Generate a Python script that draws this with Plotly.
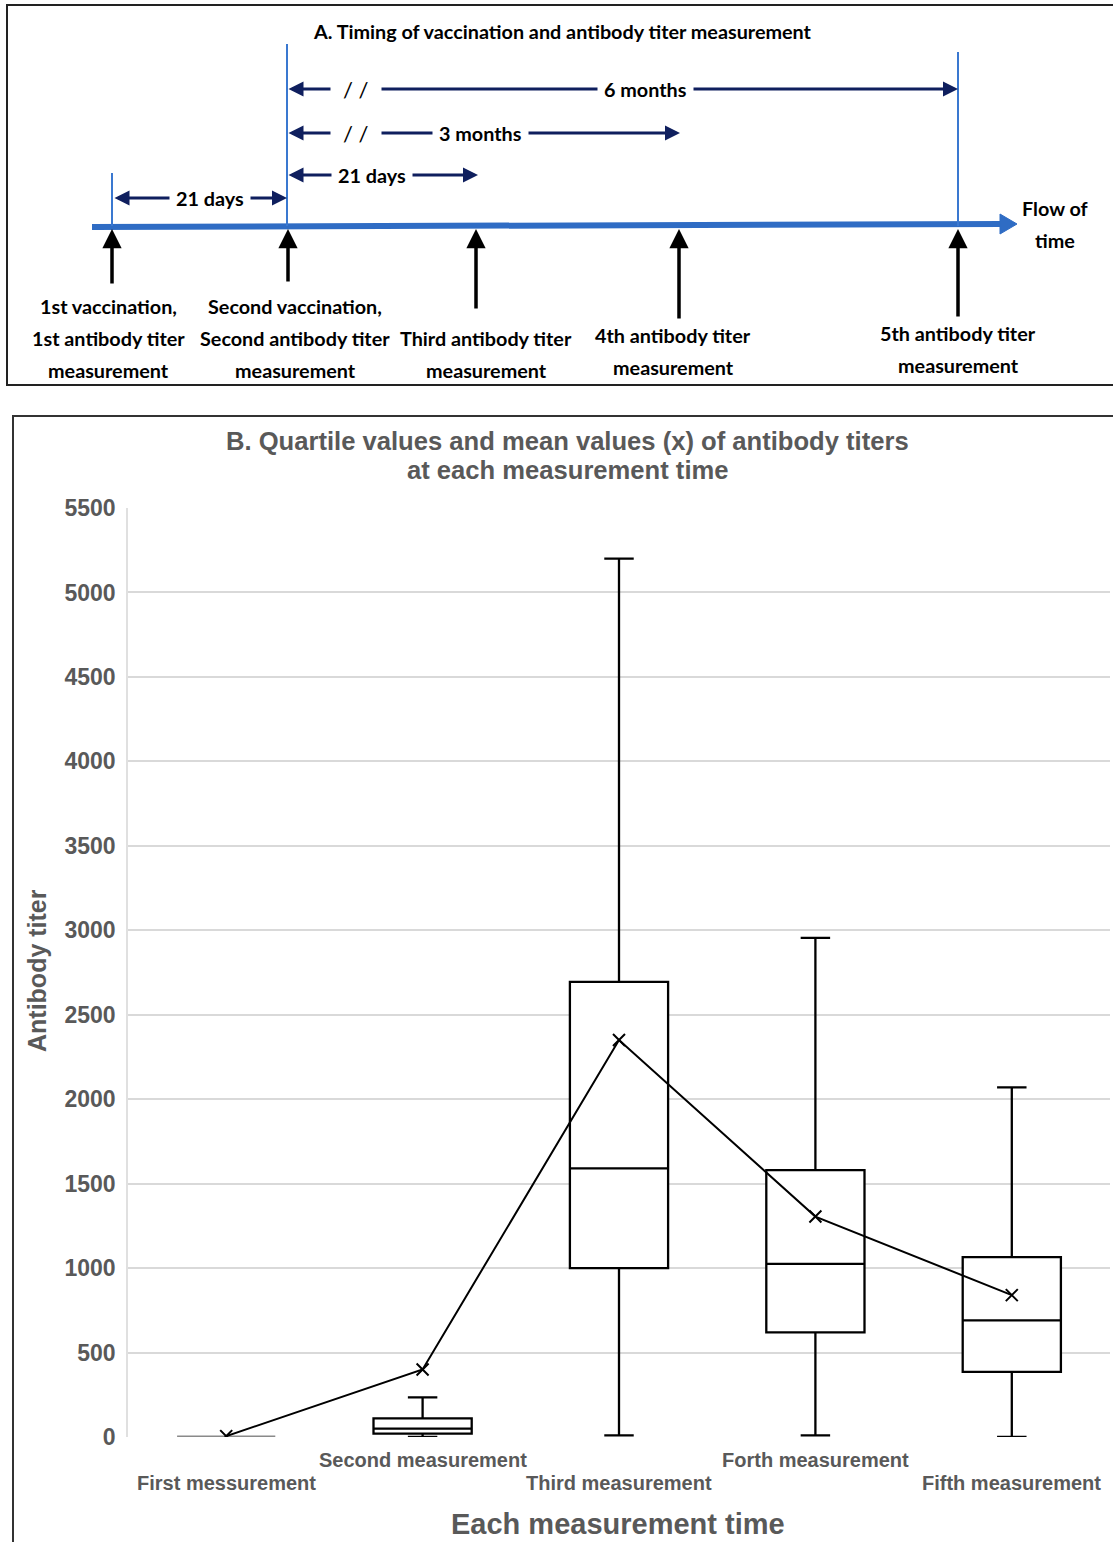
import plotly.graph_objects as go

# ---------------- Panel B data ----------------
categories = ["First messurement", "Second measurement", "Third measurement",
              "Forth measurement", "Fifth measurement"]
q1 = [0, 20, 1000, 620, 385]
median = [0, 50, 1590, 1025, 690]
q3 = [0, 110, 2695, 1580, 1065]
lower_whisker = [0, 0, 10, 10, 0]
upper_whisker = [0, 235, 5200, 2955, 2070]
mean_values = [5, 400, 2350, 1305, 840]
y_ticks = [0, 500, 1000, 1500, 2000, 2500, 3000, 3500, 4000, 4500, 5000, 5500]

# ---------------- Panel A (schematic) data ----------------
event_pos = [112, 288, 476, 679, 958]
event_labels = [["1st vaccination,", "1st antibody titer", "measurement"],
                ["Second vaccination,", "Second antibody titer", "measurement"],
                ["Third antibody titer", "measurement"],
                ["4th antibody titer", "measurement"],
                ["5th antibody titer", "measurement"]]
span_start = [113, 287, 287, 287]
span_end = [287, 478, 680, 958]
span_labels = ["21 days", "21 days", "3 months", "6 months"]
span_label_pos = [210, 372, 480, 645]
span_has_break = [False, False, True, True]

W, H = 1113, 1542
GRAY = "#595959"
NAVY = "#0F1F5E"
BLUE = "#2F6CC4"
NARROW = "Lato, Roboto, sans-serif"
ARIAL = "Liberation Sans, Arial, sans-serif"
FA = 19.8

fig = go.Figure()

# ---- Box plots ----
for i, cat in enumerate(categories):
    col = "#8a8a8a" if i == 0 else "black"
    fig.add_trace(go.Box(
        x=[i], q1=[q1[i]], median=[median[i]], q3=[q3[i]],
        lowerfence=[lower_whisker[i]], upperfence=[upper_whisker[i]],
        boxpoints=False, width=0.5, whiskerwidth=0.3,
        fillcolor="white", line=dict(color=col, width=3 if i == 0 else 2.3),
        showlegend=False, name=cat, xaxis="x", yaxis="y"))

fig.add_trace(go.Scatter(
    x=list(range(len(categories))), y=mean_values, mode="lines+markers",
    line=dict(color="black", width=2),
    marker=dict(symbol="x-thin", size=12, color="black",
                line=dict(color="black", width=2)),
    showlegend=False, xaxis="x", yaxis="y"))

y_dom = [1 - 1437 / H, 1 - 508 / H]
fig.update_layout(
    width=W, height=H, autosize=False,
    margin=dict(l=0, r=0, t=0, b=0, pad=0, autoexpand=False),
    paper_bgcolor="white", plot_bgcolor="white", showlegend=False,
    xaxis=dict(domain=[128 / W, 1110 / W], range=[-0.5, 4.5],
               showgrid=False, zeroline=False, showticklabels=False,
               showline=False, automargin=False),
    yaxis=dict(domain=y_dom, range=[0, 5500], tickvals=y_ticks,
               showgrid=True, gridcolor="#d9d9d9", gridwidth=1.5,
               zeroline=False, showline=True, linecolor="#e0e0e0",
               linewidth=1.5, ticks="", ticklabelstandoff=6, automargin=False,
               tickfont=dict(family=ARIAL, size=23, color=GRAY, weight="bold")),
    xaxis2=dict(domain=[0, 1], range=[0, W], visible=False,
                anchor="y2", automargin=False),
    yaxis2=dict(domain=[1 - 385 / H, 1], range=[385, 0], visible=False,
                anchor="x2", automargin=False),
)

ann = []
shapes = []

# ---- Panel B texts ----
for txt, ypix in [("B. Quartile values and mean values (x) of antibody titers", 441),
                  ("at each measurement time", 470)]:
    ann.append(dict(text="<b>" + txt + "</b>",
                    x=567 / W, y=1 - ypix / H, xref="paper", yref="paper",
                    xanchor="center", yanchor="middle",
                    showarrow=False, font=dict(family=ARIAL, size=25.6, color=GRAY)))
for i, cat in enumerate(categories):
    ypix = 1483 if i % 2 == 0 else 1460
    ann.append(dict(text="<b>" + cat + "</b>", x=i, y=1 - ypix / H,
                    xref="x", yref="paper", showarrow=False,
                    xanchor="center", yanchor="middle",
                    font=dict(family=ARIAL, size=20, color=GRAY)))
ann.append(dict(text="<b>Each measurement time</b>", x=618 / W, y=1 - 1524 / H,
                xref="paper", yref="paper", showarrow=False,
                xanchor="center", yanchor="middle",
                font=dict(family=ARIAL, size=29, color=GRAY)))
ann.append(dict(text="<b>Antibody titer</b>", x=37 / W, y=1 - 970 / H,
                xref="paper", yref="paper", showarrow=False, textangle=-90,
                xanchor="center", yanchor="middle",
                font=dict(family=ARIAL, size=25, color=GRAY)))

# ---- Panel borders ----
shapes.append(dict(type="rect", xref="paper", yref="paper",
                   x0=7 / W, x1=1.01, y0=1 - 385 / H, y1=1 - 5 / H,
                   line=dict(color="#222222", width=2), fillcolor="rgba(0,0,0,0)"))
shapes.append(dict(type="rect", xref="paper", yref="paper",
                   x0=13 / W, x1=1.01, y0=-0.01, y1=1 - 416 / H,
                   line=dict(color="#333333", width=2), fillcolor="rgba(0,0,0,0)"))

# ---- Panel A schematic ----
shapes.append(dict(type="line", xref="x2", yref="y2", x0=92, y0=227, x1=1002, y1=224,
                   line=dict(color=BLUE, width=6)))
shapes.append(dict(type="path", xref="x2", yref="y2",
                   path="M 1000 214 L 1017 224 L 1000 234 Z",
                   fillcolor=BLUE, line=dict(color=BLUE, width=1)))
for xv, ytop in zip([event_pos[0], event_pos[1] - 1, event_pos[4]], [173, 44, 52]):
    shapes.append(dict(type="line", xref="x2", yref="y2", x0=xv, x1=xv,
                       y0=ytop, y1=226, line=dict(color="#3A78D0", width=2)))

arrow_tail = [285, 283, 310, 320, 318]
for xv, tail in zip(event_pos, arrow_tail):
    ann.append(dict(x=xv, y=229, ax=xv, ay=tail, xref="x2", yref="y2",
                    axref="x2", ayref="y2", text="", showarrow=True,
                    arrowhead=2, arrowsize=1.1, arrowwidth=3.5, arrowcolor="black"))

label_x = [108, 295, 486, 673, 958]
label_top = [306, 306, 338, 335, 333]
for xv, lines, ly in zip(label_x, event_labels, label_top):
    for k, line in enumerate(lines):
        ann.append(dict(x=xv, y=ly + 32 * k, xref="x2", yref="y2",
                        text="<b>" + line + "</b>", showarrow=False,
                        xanchor="center", yanchor="middle",
                        font=dict(family=NARROW, size=FA, color="black")))
for k, line in enumerate(["Flow of", "time"]):
    ann.append(dict(x=1055, y=208 + 32 * k, xref="x2", yref="y2",
                    text="<b>" + line + "</b>", showarrow=False,
                    xanchor="center", yanchor="middle",
                    font=dict(family=NARROW, size=FA, color="black")))

span_y = [198, 175, 133, 89]
for s, e, yv in zip(span_start, span_end, span_y):
    ann.append(dict(x=e, y=yv, ax=s, ay=yv, xref="x2", yref="y2",
                    axref="x2", ayref="y2", text="", showarrow=True,
                    arrowhead=2, startarrowhead=2, arrowside="end+start",
                    arrowsize=1, startarrowsize=1, arrowwidth=3, arrowcolor=NAVY))
for lab, lp, brk, yv in zip(span_labels, span_label_pos, span_has_break, span_y):
    ann.append(dict(x=lp, y=yv, xref="x2", yref="y2", text="<b>" + lab + "</b>",
                    showarrow=False, bgcolor="white", borderpad=6,
                    xanchor="center", yanchor="middle",
                    font=dict(family=NARROW, size=FA, color="black")))
    if brk:
        ann.append(dict(x=356, y=yv, xref="x2", yref="y2", text="/ /",
                        showarrow=False, bgcolor="white", borderpad=12,
                        xanchor="center", yanchor="middle",
                        font=dict(family=NARROW, size=22, color="black")))

ann.append(dict(x=562, y=31, xref="x2", yref="y2",
                text="<b>A. Timing of vaccination and antibody titer measurement</b>",
                showarrow=False, xanchor="center", yanchor="middle",
                font=dict(family=NARROW, size=FA, color="black")))

fig.update_layout(annotations=ann, shapes=shapes)
fig.write_html("out.html", config={"displayModeBar": False},
               post_script="document.body.style.margin='0';document.body.style.overflow='hidden';")
